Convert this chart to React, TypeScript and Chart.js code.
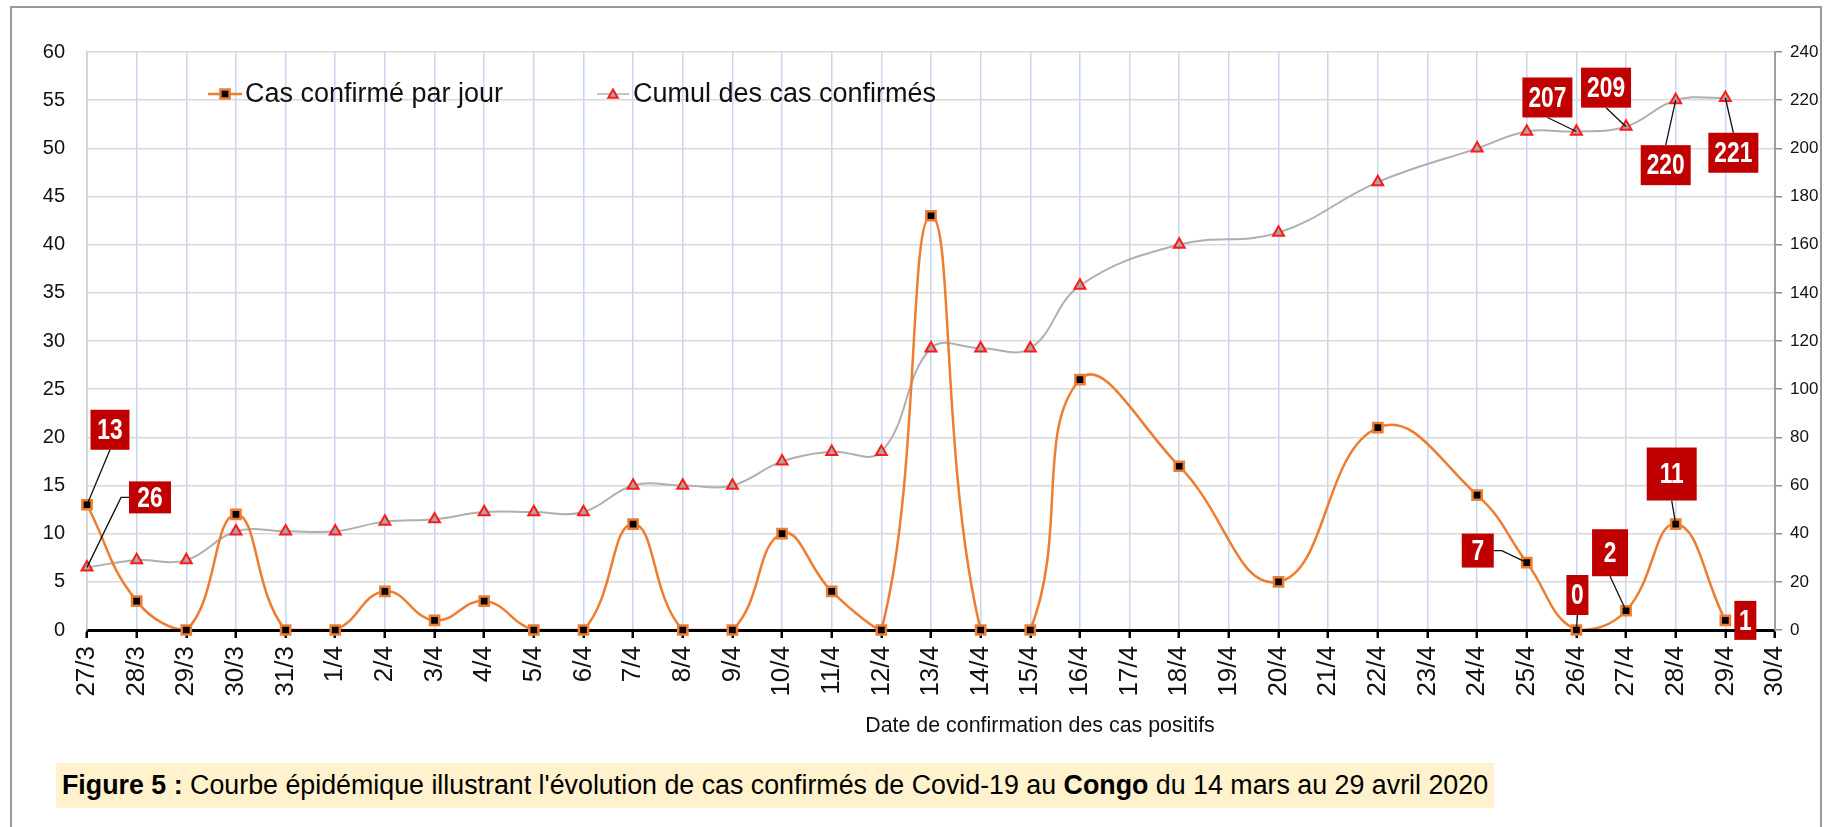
import React, { useEffect, useRef } from 'react';
import { Chart, registerables } from 'chart.js';

Chart.register(...registerables);

// ---------- DATA ----------
const categories: string[] = [
  '27/3', '28/3', '29/3', '30/3', '31/3',
  '1/4', '2/4', '3/4', '4/4', '5/4', '6/4', '7/4', '8/4', '9/4', '10/4',
  '11/4', '12/4', '13/4', '14/4', '15/4', '16/4', '17/4', '18/4', '19/4', '20/4',
  '21/4', '22/4', '23/4', '24/4', '25/4', '26/4', '27/4', '28/4', '29/4', '30/4',
];

const dailyCases: (number | null)[] = [
  13, 3, 0, 12, 0,
  0, 4, 1, 3, 0, 0, 11, 0, 0, 10,
  4, 0, 43, 0, 0, 26, null, 17, null, 5,
  null, 21, null, 14, 7, 0, 2, 11, 1, null,
];

const cumulativeCases: (number | null)[] = [
  26, 29, 29, 41, 41,
  41, 45, 46, 49, 49, 49, 60, 60, 60, 70,
  74, 74, 117, 117, 117, 143, null, 160, null, 165,
  null, 186, null, 200, 207, 207, 209, 220, 221, null,
];

const seriesNames: string[] = ['Cas confirmé par jour', 'Cumul des cas confirmés'];
const leftAxisRange = { min: 0, max: 60, step: 5 };
const rightAxisRange = { min: 0, max: 240, step: 20 };
const xAxisTitle = 'Date de confirmation des cas positifs';

// ---------- STYLE / LAYOUT ----------
const SANS = "'Liberation Sans', Arial, Helvetica, sans-serif";
const ORANGE = '#ED7D31';
const GREY_LINE = '#AFAFAF';
const TRI_RED = '#FF1A1A';
const BOX_RED = '#C00000';

// callouts: which series / which point, box offset from point (px), box size, leader anchor
const callouts = [
  { series: 0, index: 0, dx: 23, dy: -75, w: 39, h: 40, anchor: 'bottom' },
  { series: 1, index: 0, dx: 63, dy: -70, w: 42, h: 32, anchor: 'left' },
  { series: 0, index: 29, dx: -49, dy: -12, w: 32, h: 34, anchor: 'right' },
  { series: 0, index: 30, dx: 1, dy: -35, w: 22, h: 40, anchor: 'bottom' },
  { series: 0, index: 31, dx: -16, dy: -58, w: 36, h: 47, anchor: 'bottom' },
  { series: 0, index: 32, dx: -4, dy: -50, w: 50, h: 53, anchor: 'bottom' },
  { series: 0, index: 33, dx: 20, dy: 0, w: 22, h: 39, anchor: 'none' },
  { series: 1, index: 30, dx: -29, dy: -34, w: 50, h: 40, anchor: 'bottom' },
  { series: 1, index: 31, dx: -20, dy: -39, w: 50, h: 40, anchor: 'bottom' },
  { series: 1, index: 32, dx: -10, dy: 65, w: 50, h: 40, anchor: 'top' },
  { series: 1, index: 33, dx: 8, dy: 55, w: 50, h: 40, anchor: 'top' },
];

function drawSquare(ctx: CanvasRenderingContext2D, x: number, y: number) {
  const s = 9.2;
  ctx.save();
  ctx.fillStyle = '#000';
  ctx.strokeStyle = ORANGE;
  ctx.lineWidth = 2.5;
  ctx.beginPath();
  ctx.rect(x - s / 2, y - s / 2, s, s);
  ctx.fill();
  ctx.stroke();
  ctx.restore();
}

function drawTriangle(ctx: CanvasRenderingContext2D, x: number, y: number, r: number) {
  ctx.save();
  ctx.fillStyle = '#A6A6A6';
  ctx.strokeStyle = TRI_RED;
  ctx.lineWidth = 2;
  ctx.beginPath();
  ctx.moveTo(x, y - r);
  ctx.lineTo(x + 0.866 * r, y + 0.5 * r);
  ctx.lineTo(x - 0.866 * r, y + 0.5 * r);
  ctx.closePath();
  ctx.fill();
  ctx.stroke();
  ctx.restore();
}

const overlayPlugin = {
  id: 'overlay',
  afterDraw(chart: any) {
    const ctx: CanvasRenderingContext2D = chart.ctx;
    // ---- legend ----
    const ly = 94;
    ctx.save();
    ctx.strokeStyle = ORANGE;
    ctx.lineWidth = 2.5;
    ctx.beginPath();
    ctx.moveTo(208, ly);
    ctx.lineTo(242, ly);
    ctx.stroke();
    drawSquare(ctx, 225, ly);
    ctx.strokeStyle = GREY_LINE;
    ctx.lineWidth = 1.5;
    ctx.beginPath();
    ctx.moveTo(597, ly);
    ctx.lineTo(629, ly);
    ctx.stroke();
    drawTriangle(ctx, 613, ly + 1, 5.5);
    ctx.fillStyle = '#111';
    ctx.font = `27px ${SANS}`;
    ctx.textAlign = 'left';
    ctx.textBaseline = 'middle';
    ctx.fillText(seriesNames[0], 245, ly + 1);
    ctx.fillText(seriesNames[1], 633, ly + 1);
    ctx.restore();

    // ---- callouts ----
    callouts.forEach((c) => {
      const meta = chart.getDatasetMeta(c.series);
      const el = meta.data[c.index];
      if (!el) return;
      const px = el.x;
      const py = el.y;
      const values = c.series === 0 ? dailyCases : cumulativeCases;
      const text = String(values[c.index]);
      const cx = px + c.dx;
      const cy = py + c.dy;
      const left = cx - c.w / 2;
      const right = cx + c.w / 2;
      const top = cy - c.h / 2;
      const bottom = cy + c.h / 2;
      ctx.save();
      ctx.strokeStyle = '#111';
      ctx.lineWidth = 1.3;
      ctx.beginPath();
      if (c.anchor === 'bottom') {
        ctx.moveTo(px, py);
        ctx.lineTo(cx, bottom);
      } else if (c.anchor === 'top') {
        ctx.moveTo(px, py);
        ctx.lineTo(cx, top);
      } else if (c.anchor === 'left') {
        ctx.moveTo(px, py);
        ctx.lineTo(left - 8, cy);
        ctx.lineTo(left, cy);
      } else if (c.anchor === 'right') {
        ctx.moveTo(px, py);
        ctx.lineTo(right + 8, cy);
        ctx.lineTo(right, cy);
      }
      ctx.stroke();
      ctx.fillStyle = BOX_RED;
      ctx.fillRect(left, top, c.w, c.h);
      ctx.translate(cx, cy + 1);
      ctx.scale(0.76, 1);
      ctx.fillStyle = '#fff';
      ctx.font = `bold 30px ${SANS}`;
      ctx.textAlign = 'center';
      ctx.textBaseline = 'middle';
      ctx.fillText(text, 0, 0);
      ctx.restore();
    });
  },
};

export default function App() {
  const canvasRef = useRef<HTMLCanvasElement | null>(null);

  useEffect(() => {
    document.body.style.margin = '0';
    const canvas = canvasRef.current;
    if (!canvas) return;
    const chart = new Chart(canvas, {
      type: 'line',
      data: {
        labels: categories,
        datasets: [
          {
            label: seriesNames[0],
            data: dailyCases,
            yAxisID: 'y',
            showLine: false,
            pointStyle: 'rect',
            pointRadius: 6.5,
            pointBorderWidth: 2.5,
            pointBorderColor: ORANGE,
            pointBackgroundColor: '#000',
            clip: false,
            order: 0,
          } as any,
          {
            label: seriesNames[1],
            data: cumulativeCases,
            yAxisID: 'y1',
            showLine: false,
            pointStyle: 'triangle',
            pointRadius: 6.3,
            pointBorderWidth: 2,
            pointBorderColor: TRI_RED,
            pointBackgroundColor: '#A6A6A6',
            clip: false,
            order: 1,
          } as any,
          {
            label: seriesNames[0] + ' (courbe)',
            data: dailyCases,
            yAxisID: 'y',
            borderColor: ORANGE,
            borderWidth: 2.5,
            tension: 0.45,
            spanGaps: true,
            pointRadius: 0,
            fill: false,
            clip: { left: 10, right: 10, top: 10, bottom: -1 },
            order: 2,
          } as any,
          {
            label: seriesNames[1] + ' (courbe)',
            data: cumulativeCases,
            yAxisID: 'y1',
            borderColor: GREY_LINE,
            borderWidth: 2,
            tension: 0.4,
            spanGaps: true,
            pointRadius: 0,
            fill: false,
            order: 3,
          } as any,
        ],
      },
      options: {
        responsive: false,
        animation: false,
        events: [],
        layout: { padding: { top: 52, left: 0, right: 0, bottom: 0 } },
        plugins: {
          legend: { display: false },
          tooltip: { enabled: false },
          title: { display: false },
        },
        scales: {
          x: {
            type: 'category',
            offset: false,
            grid: {
              color: '#C8D6F0',
              lineWidth: 1.5,
              drawTicks: true,
              tickLength: 8,
              tickColor: '#000',
              tickWidth: 2.5,
            },
            border: { display: true, color: '#000', width: 3 },
            ticks: {
              autoSkip: false,
              minRotation: 90,
              maxRotation: 90,
              padding: 8,
              color: '#111',
              font: { family: SANS, size: 26 },
            },
            afterFit: (s: any) => {
              s.height = 197;
            },
          },
          y: {
            position: 'left',
            min: leftAxisRange.min,
            max: leftAxisRange.max,
            grid: { color: '#D9D9D9', lineWidth: 1.5, drawTicks: false },
            border: { display: true, color: '#CFCFCF', width: 1.5 },
            ticks: {
              stepSize: leftAxisRange.step,
              padding: 22,
              color: '#111',
              font: { family: SANS, size: 20 },
            },
            afterFit: (s: any) => {
              s.width = 87;
            },
          },
          y1: {
            position: 'right',
            min: rightAxisRange.min,
            max: rightAxisRange.max,
            grid: {
              drawOnChartArea: false,
              drawTicks: true,
              tickLength: 7,
              color: '#8C8C8C',
              lineWidth: 1.5,
            },
            border: { display: true, color: '#A0A0A0', width: 2 },
            ticks: {
              stepSize: rightAxisRange.step,
              padding: 8,
              color: '#111',
              font: { family: SANS, size: 17 },
            },
            afterFit: (s: any) => {
              s.width = 52;
            },
          },
        },
      } as any,
      plugins: [overlayPlugin],
    });
    return () => {
      chart.destroy();
    };
  }, []);

  return (
    <div
      style={{
        position: 'relative',
        width: 1827,
        height: 827,
        overflow: 'hidden',
        background: '#fff',
        fontFamily: SANS,
      }}
    >
      <div
        style={{
          position: 'absolute',
          left: 10,
          top: 6,
          width: 1812,
          height: 900,
          border: '2px solid #9A9A9A',
          boxSizing: 'border-box',
        }}
      />
      <canvas
        ref={canvasRef}
        width={1827}
        height={827}
        style={{ position: 'absolute', left: 0, top: 0, width: 1827, height: 827 }}
      />
      <div
        style={{
          position: 'absolute',
          left: 1040,
          top: 712,
          transform: 'translateX(-50%)',
          fontSize: 21.4,
          lineHeight: '26px',
          whiteSpace: 'nowrap',
          color: '#111',
        }}
      >
        {xAxisTitle}
      </div>
      <div
        style={{
          position: 'absolute',
          left: 56,
          top: 763,
          width: 1438,
          height: 45,
          background: '#FFF2CC',
          boxSizing: 'border-box',
          paddingLeft: 6,
          fontSize: 26.8,
          lineHeight: '45px',
          whiteSpace: 'nowrap',
          color: '#000',
        }}
      >
        <b>Figure 5 :</b> Courbe épidémique illustrant l'évolution de cas confirmés de Covid-19 au{' '}
        <b>Congo</b> du 14 mars au 29 avril 2020
      </div>
    </div>
  );
}
